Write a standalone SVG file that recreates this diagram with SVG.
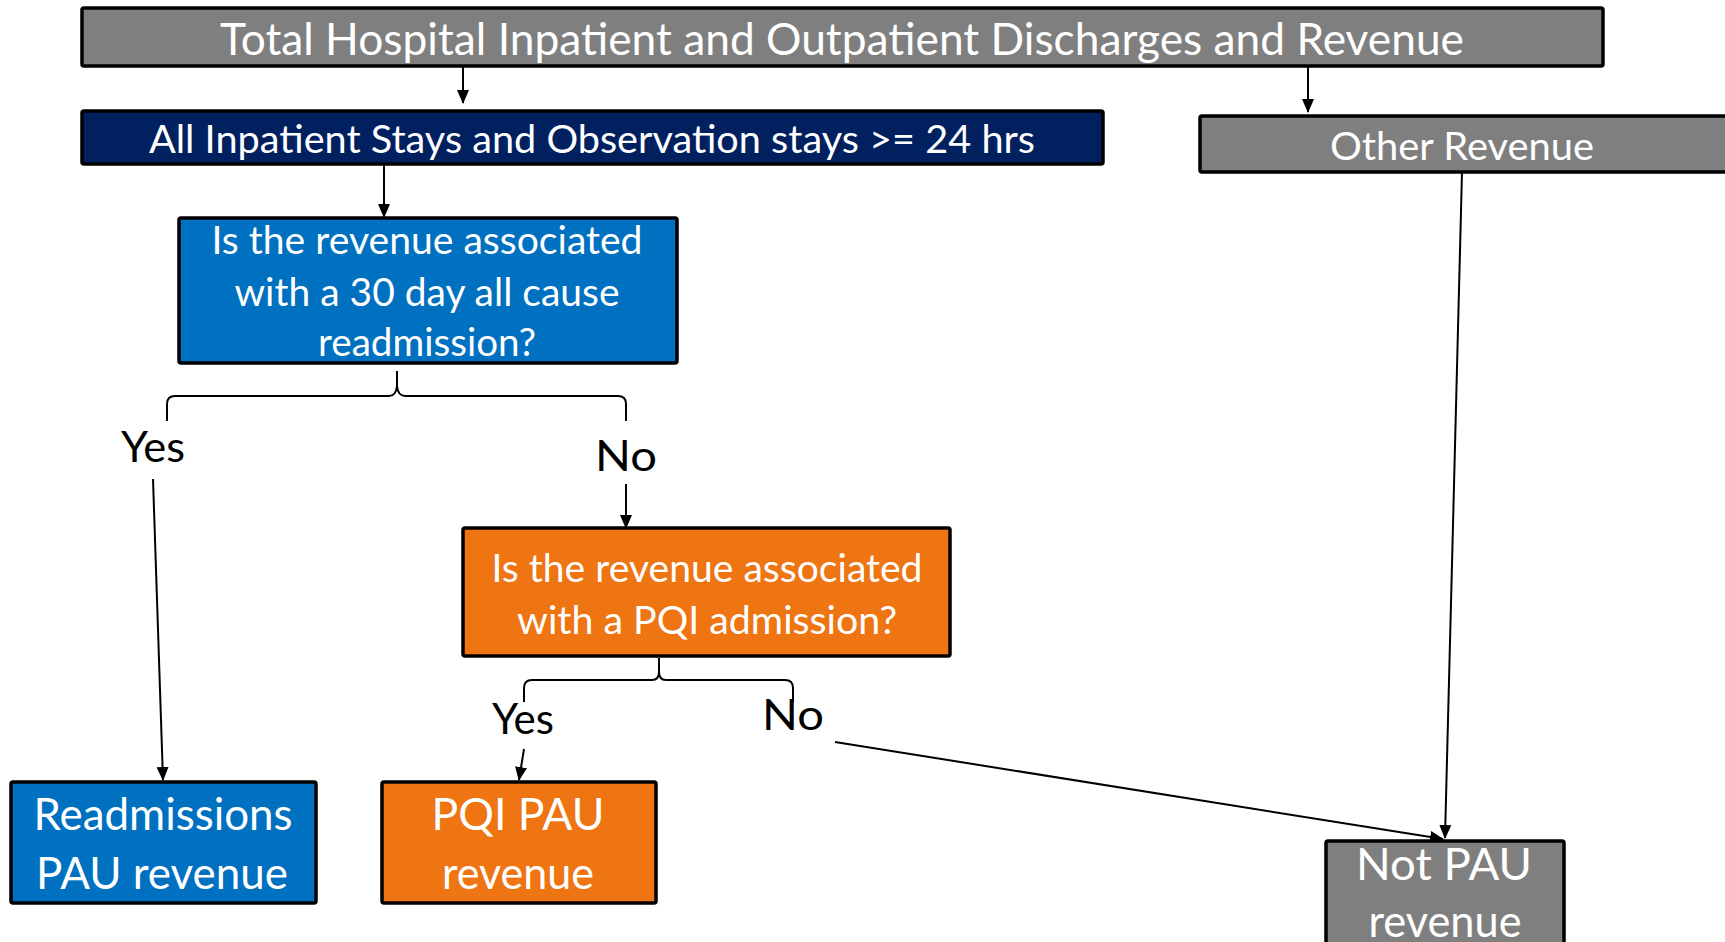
<svg xmlns="http://www.w3.org/2000/svg" width="1725" height="942" viewBox="0 0 1725 942">
<style>
.box{stroke:#000;stroke-width:3.5}
.grey{fill:#7f7f7f}
.navy{fill:#002060}
.blue{fill:#0070c0}
.orange{fill:#ee7512}
.t{font-family:Lato,"Liberation Sans",sans-serif;fill:#fff;text-anchor:middle}
.lbl{font-family:Lato,"Liberation Sans",sans-serif;fill:#000;text-anchor:middle;font-size:42px}
.c{stroke:#000;stroke-width:2;fill:none}
</style>
<defs>
<marker id="ah" markerWidth="14" markerHeight="14" viewBox="0 0 14 14" refX="13" refY="7" orient="auto" markerUnits="userSpaceOnUse">
<path d="M0,1 L14,7 L0,13 Z" fill="#000"/>
</marker>
</defs>
<rect width="1725" height="942" fill="#fff"/>

<g id="connectors">
<line class="c" x1="463" y1="67" x2="463" y2="103" marker-end="url(#ah)"/>
<line class="c" x1="1308" y1="67" x2="1308" y2="112" marker-end="url(#ah)"/>
<line class="c" x1="384" y1="156" x2="384" y2="217" marker-end="url(#ah)"/>
<path class="c" d="M167,421 V404 Q167,396 175,396 H389 Q396,396 397,386 V371 V386 Q398,396 405,396 H618 Q626,396 626,404 V421"/>
<line class="c" x1="153" y1="479" x2="163" y2="780" marker-end="url(#ah)"/>
<line class="c" x1="626" y1="484" x2="626" y2="528" marker-end="url(#ah)"/>
<path class="c" d="M524,702 V688 Q524,680 532,680 H652 Q659,680 659,672 V658 V672 Q659,680 666,680 H785 Q793,680 793,688 V702"/>
<line class="c" x1="524" y1="749" x2="519" y2="780" marker-end="url(#ah)"/>
<line class="c" x1="835" y1="742" x2="1443" y2="839" marker-end="url(#ah)"/>
<line class="c" x1="1462" y1="172" x2="1445" y2="838" marker-end="url(#ah)"/>
</g>

<g id="node-total">
<rect class="box grey" x="82" y="8" width="1521" height="58" rx="2"/>
<text class="t" x="842" y="55" font-size="44" textLength="1244" lengthAdjust="spacingAndGlyphs">Total Hospital Inpatient and Outpatient Discharges and Revenue</text>
</g>

<g id="node-inpatient">
<rect class="box navy" x="82" y="111" width="1021" height="53" rx="2"/>
<text class="t" x="592" y="153" font-size="38" textLength="886" lengthAdjust="spacingAndGlyphs">All Inpatient Stays and Observation stays &gt;= 24 hrs</text>
</g>

<g id="node-other">
<rect class="box grey" x="1200" y="116" width="530" height="56" rx="2"/>
<text class="t" x="1462" y="160" font-size="38" textLength="264" lengthAdjust="spacingAndGlyphs">Other Revenue</text>
</g>

<g id="node-readmission-q">
<rect class="box blue" x="179" y="218" width="498" height="145" rx="2"/>
<text class="t" x="427" y="254" font-size="38" textLength="431" lengthAdjust="spacingAndGlyphs">Is the revenue associated</text>
<text class="t" x="427" y="306" font-size="38" textLength="385" lengthAdjust="spacingAndGlyphs">with a 30 day all cause</text>
<text class="t" x="427" y="356" font-size="38" textLength="218" lengthAdjust="spacingAndGlyphs">readmission?</text>
</g>

<g id="label-yes1"><text class="lbl" x="153" y="462" textLength="64" lengthAdjust="spacingAndGlyphs">Yes</text></g>
<g id="label-no1"><text class="lbl" x="626" y="471" textLength="62" lengthAdjust="spacingAndGlyphs">No</text></g>

<g id="node-pqi-q">
<rect class="box orange" x="463" y="528" width="487" height="128" rx="2"/>
<text class="t" x="707" y="582" font-size="38" textLength="431" lengthAdjust="spacingAndGlyphs">Is the revenue associated</text>
<text class="t" x="707" y="634" font-size="38" textLength="380" lengthAdjust="spacingAndGlyphs">with a PQI admission?</text>
</g>

<g id="label-yes2"><text class="lbl" x="523" y="734" textLength="62" lengthAdjust="spacingAndGlyphs">Yes</text></g>
<g id="label-no2"><text class="lbl" x="793" y="730" textLength="62" lengthAdjust="spacingAndGlyphs">No</text></g>

<g id="node-readmissions">
<rect class="box blue" x="11" y="782" width="305" height="121" rx="2"/>
<text class="t" x="163" y="830" font-size="44" textLength="259" lengthAdjust="spacingAndGlyphs">Readmissions</text>
<text class="t" x="162" y="889" font-size="44" textLength="252" lengthAdjust="spacingAndGlyphs">PAU revenue</text>
</g>

<g id="node-pqi-pau">
<rect class="box orange" x="382" y="782" width="274" height="121" rx="2"/>
<text class="t" x="518" y="830" font-size="44" textLength="173" lengthAdjust="spacingAndGlyphs">PQI PAU</text>
<text class="t" x="518" y="889" font-size="44" textLength="152" lengthAdjust="spacingAndGlyphs">revenue</text>
</g>

<g id="node-not-pau">
<rect class="box grey" x="1326" y="841" width="238" height="120" rx="2"/>
<text class="t" x="1444" y="880" font-size="44" textLength="176" lengthAdjust="spacingAndGlyphs">Not PAU</text>
<text class="t" x="1445" y="937" font-size="44" textLength="153" lengthAdjust="spacingAndGlyphs">revenue</text>
</g>
</svg>
